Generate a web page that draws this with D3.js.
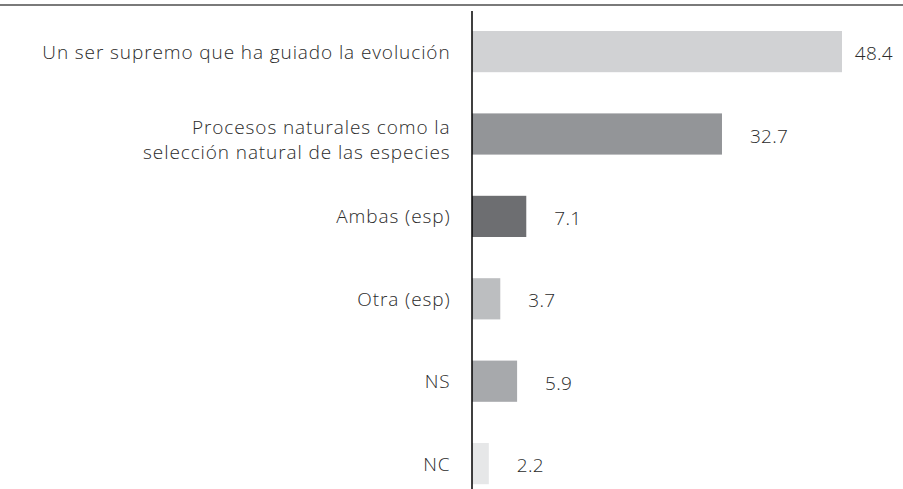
<!DOCTYPE html>
<html>
<head>
<meta charset="utf-8">
<script src="https://cdn.jsdelivr.net/npm/d3@7"></script>
<style>
  body { margin: 0; background: #fff; }
  text { font-family: "Open Sans", Lato, sans-serif; font-weight: 300; letter-spacing: 0.9px; fill: #2b2b2b; }
  text.val { letter-spacing: 0.3px; }
</style>
</head>
<body>
<div id="chart"></div>
<script>
var categories = [
  "Un ser supremo que ha guiado la evolución",
  "Procesos naturales como la\nselección natural de las especies",
  "Ambas (esp)",
  "Otra (esp)",
  "NS",
  "NC"
];
var values = [48.4, 32.7, 7.1, 3.7, 5.9, 2.2];
var barColors = ["#d1d2d4", "#939598", "#6d6e71", "#bcbec0", "#a7a9ac", "#e6e7e8"];

var width = 903, height = 489;

var svg = d3.select("#chart").append("svg")
    .attr("width", width)
    .attr("height", height);

var x = d3.scaleLinear().domain([0, 48.4]).range([472, 842]);
var y = d3.scaleBand().domain(categories)
    .range([10.4, 504.8])
    .paddingInner(0.5)
    .paddingOuter(0.25);

// top rule
svg.append("line")
    .attr("x1", 0).attr("x2", width)
    .attr("y1", 5).attr("y2", 5)
    .attr("stroke", "#7a7a7a")
    .attr("stroke-width", 2);

svg.selectAll("rect.bar")
    .data(values)
  .enter().append("rect")
    .attr("class", "bar")
    .attr("x", x(0))
    .attr("y", function(d, i) { return y(categories[i]); })
    .attr("width", function(d) { return x(d) - x(0); })
    .attr("height", y.bandwidth())
    .attr("fill", function(d, i) { return barColors[i]; });

svg.selectAll("text.val")
    .data(values)
  .enter().append("text")
    .attr("class", "val")
    .attr("y", function(d, i) { return y(categories[i]) + y.bandwidth() / 2 + 2; })
    .attr("dy", "0.35em")
    .attr("font-size", "19px")
    .text(function(d) { return d.toFixed(1); })
    .attr("x", function(d) {
      // keep the label inside the right edge
      var w = this.getComputedTextLength();
      return Math.min(x(d) + 28, width - 10 - w);
    });

// category axis
var axis = svg.append("g")
    .attr("transform", "translate(" + 471.5 + ",0)")
    .call(d3.axisLeft(y).tickSize(0).tickSizeOuter(0).tickPadding(21));

axis.select(".domain")
    .attr("stroke", "#000")
    .attr("stroke-width", 1.5);

axis.selectAll(".tick text")
    .attr("font-size", "19px")
    .attr("font-family", null)
    .attr("fill", null)
    .each(function(d) {
      var lines = d.split("\n");
      var t = d3.select(this).text(null).attr("dy", null);
      lines.forEach(function(line, i) {
        t.append("tspan")
          .attr("x", -21)
          .attr("dy", i === 0 ? (lines.length > 1 ? "0em" : "0.37em") : "1.33em")
          .text(line);
      });
    });
</script>
</body>
</html>
